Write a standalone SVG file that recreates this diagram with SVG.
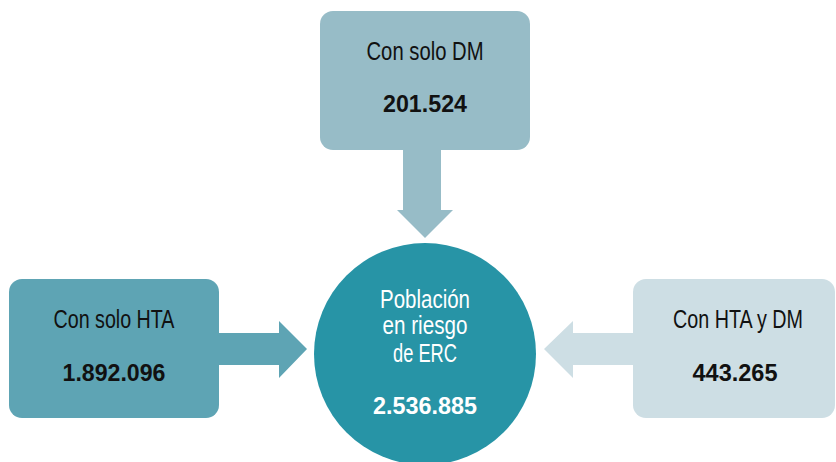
<svg xmlns="http://www.w3.org/2000/svg" width="836" height="462" viewBox="0 0 836 462">
<style>
text{font-family:"Liberation Sans Narrow","Liberation Sans",Arial,sans-serif;text-anchor:middle}
.lbl{font-size:25px;fill:#111}
.num{font-size:24px;font-weight:bold;fill:#111}
.cl{font-size:25px;fill:#fff}
.cn{font-size:24px;font-weight:bold;fill:#fff}
</style>
<rect width="836" height="462" fill="#fff"/>
<g id="connectors">
<polygon points="403,150 441,150 441,210 453,210 425,238 397,210 403,210" fill="#97bcc7"/>
<polygon points="219,333 279,333 279,321 307,349 279,378 279,365 219,365" fill="#5ea4b4"/>
<polygon points="633,333 573,333 573,321 544,349 573,378 573,365 633,365" fill="#cddee4"/>
</g>
<g id="solo-dm">
<rect x="320" y="11" width="210" height="139" rx="13" fill="#97bcc7"/>
<text class="lbl" x="425" y="60" textLength="117" lengthAdjust="spacingAndGlyphs">Con solo DM</text>
<text class="num" x="425" y="112" textLength="84" lengthAdjust="spacingAndGlyphs">201.524</text>
</g>
<g id="solo-hta">
<rect x="9" y="279" width="210" height="139" rx="13" fill="#5ea4b4"/>
<text class="lbl" x="114" y="328" textLength="121" lengthAdjust="spacingAndGlyphs">Con solo HTA</text>
<text class="num" x="114" y="381" textLength="103" lengthAdjust="spacingAndGlyphs">1.892.096</text>
</g>
<g id="hta-dm">
<rect x="633" y="279" width="202" height="139" rx="13" fill="#cddee4"/>
<text class="lbl" x="738" y="328" textLength="130" lengthAdjust="spacingAndGlyphs">Con HTA y DM</text>
<text class="num" x="735" y="381" textLength="85" lengthAdjust="spacingAndGlyphs">443.265</text>
</g>
<g id="poblacion">
<circle cx="425" cy="354" r="111" fill="#2794a6"/>
<text class="cl" x="425" y="308" textLength="90" lengthAdjust="spacingAndGlyphs">Población</text>
<text class="cl" x="425" y="334" textLength="85" lengthAdjust="spacingAndGlyphs">en riesgo</text>
<text class="cl" x="425" y="362" textLength="64" lengthAdjust="spacingAndGlyphs">de ERC</text>
<text class="cn" x="425" y="414" textLength="104" lengthAdjust="spacingAndGlyphs">2.536.885</text>
</g>
</svg>
